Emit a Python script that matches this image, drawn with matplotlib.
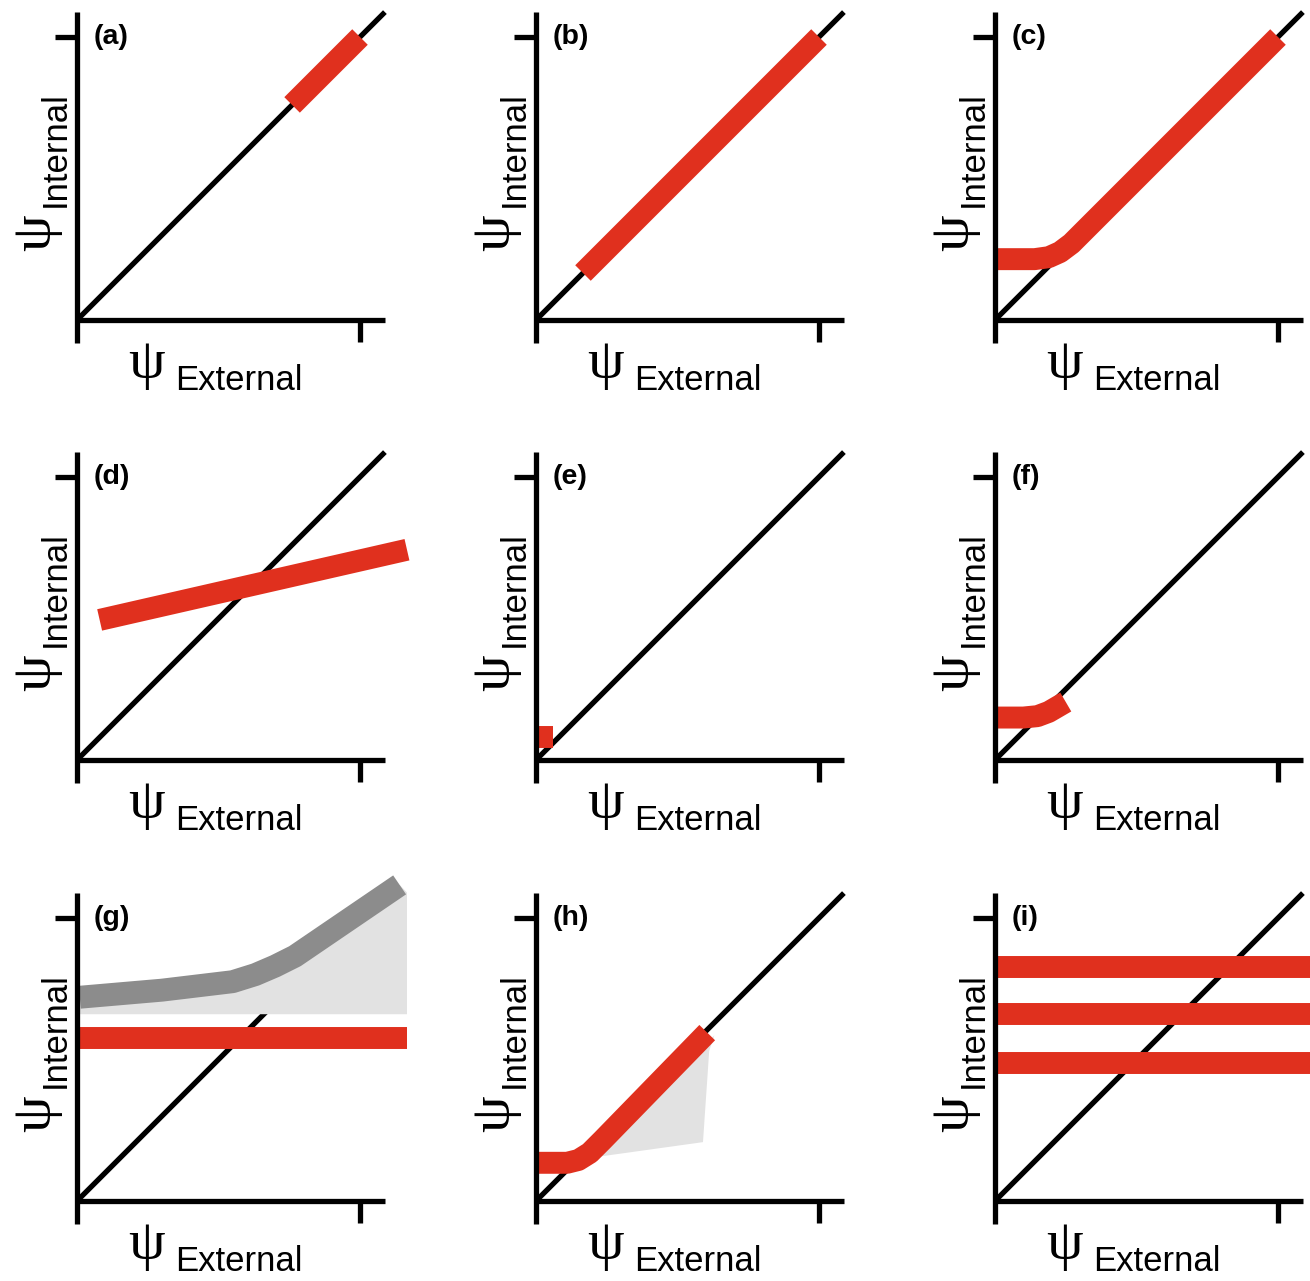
import matplotlib.pyplot as plt
from matplotlib.patches import Polygon

RED = '#e0301e'
GREY_LINE = '#8c8c8c'
GREY_FILL = '#e2e2e2'

panel_labels = ['(a)', '(b)', '(c)', '(d)', '(e)', '(f)', '(g)', '(h)', '(i)']
x_text = 'External'
y_text = 'Internal'

# red response curves (data units, 1 = tick)
a_x = [0.76, 1.0]
a_y = [0.76, 1.0]
b_x = [0.166, 1.0]
b_y = [0.166, 1.0]
c_x = [0.01, 0.14, 0.19, 0.23, 0.27, 1.0]
c_y = [0.215, 0.215, 0.222, 0.24, 0.27, 1.0]
d_x = [0.08, 1.166]
d_y = [0.495, 0.743]
e_x = [0.004, 0.06]
e_y = [0.083, 0.083]
f_x = [0.01, 0.1, 0.15, 0.19, 0.25]
f_y = [0.15, 0.15, 0.155, 0.17, 0.205]
g_x = [0.01, 1.166]
g_y = [0.576, 0.576]
h_x = [0.01, 0.11, 0.15, 0.19, 0.235, 0.605]
h_y = [0.135, 0.135, 0.145, 0.17, 0.215, 0.595]
i_levels = [0.827, 0.661, 0.488]
i_xmax = 1.2

# grey envelope in (g)
g_grey_x = [0.01, 0.3, 0.55, 0.63, 0.7, 0.77, 1.14]
g_grey_y = [0.72, 0.745, 0.775, 0.80, 0.83, 0.865, 1.117]
g_fill_bottom = 0.66
g_fill_right = 1.166
g_fill_right_top = 1.09

# grey shaded area in (h)
h_shade_x = [0.21, 0.63, 0.612, 0.59]
h_shade_y = [0.155, 0.585, 0.53, 0.208]

W, H = 1310, 1281
SCALE = 283.0  # pixels per data unit
col_origin = [77, 536, 995]
row_origin = [320, 760, 1201]
XLIM = (-0.27, 1.2)
YLIM = (-0.3, 1.13)

fig = plt.figure(figsize=(W / 100, H / 100), dpi=100)

LW_BLACK = 3.8
LW_RED = 15.8
PSI_SIZE = 42

axes = []
for r in range(3):
    for c in range(3):
        ox = col_origin[c]
        oy = H - row_origin[r]
        left = (ox + XLIM[0] * SCALE) / W
        bottom = (oy + YLIM[0] * SCALE) / H
        width = (XLIM[1] - XLIM[0]) * SCALE / W
        height = (YLIM[1] - YLIM[0]) * SCALE / H
        ax = fig.add_axes([left, bottom, width, height])
        ax.set_xlim(XLIM)
        ax.set_ylim(YLIM)
        ax.patch.set_alpha(0)
        for s in ['top', 'right']:
            ax.spines[s].set_visible(False)
        ax.spines['left'].set_position(('data', 0))
        ax.spines['bottom'].set_position(('data', 0))
        ax.spines['left'].set_bounds(-0.081, 1.088)
        ax.spines['bottom'].set_bounds(0, 1.09)
        for s in ['left', 'bottom']:
            ax.spines[s].set_linewidth(LW_BLACK)
            ax.spines[s].set_capstyle('butt')
            ax.spines[s].set_zorder(5)
        ax.set_xticks([1])
        ax.set_yticks([1])
        ax.set_xticklabels([])
        ax.set_yticklabels([])
        ax.tick_params(direction='out', length=16, width=LW_BLACK)
        # 1:1 line
        ax.plot([0, 1.088], [0, 1.088], color='black', lw=LW_BLACK,
                solid_capstyle='butt', zorder=2, clip_on=False)
        # axis labels
        ax.text(0.245, -0.155, '\u03c8', family='Liberation Serif',
                fontsize=PSI_SIZE, ha='center', va='center')
        ax.text(0.346, -0.247, x_text, family='Liberation Sans', fontsize=25)
        ax.text(-0.145, 0.31, '\u03c8', family='Liberation Serif',
                fontsize=PSI_SIZE, rotation=90, rotation_mode='anchor',
                ha='center', va='center')
        ax.text(-0.042, 0.40, y_text, family='Liberation Sans', fontsize=25,
                rotation=90, rotation_mode='anchor', ha='left', va='baseline')
        ax.text(0.057, 1.0, panel_labels[r * 3 + c], family='Liberation Sans',
                fontweight='bold', fontsize=20.5, va='center')
        axes.append(ax)

def red(ax, x, y):
    ax.plot(x, y, color=RED, lw=LW_RED, solid_capstyle='butt',
            solid_joinstyle='round', zorder=4, clip_on=False)

red(axes[0], a_x, a_y)
red(axes[1], b_x, b_y)
red(axes[2], c_x, c_y)
red(axes[3], d_x, d_y)
red(axes[4], e_x, e_y)
red(axes[5], f_x, f_y)

# (g)
ax = axes[6]
fill_pts = list(zip(g_grey_x, g_grey_y)) + [(g_fill_right, g_fill_right_top),
                                            (g_fill_right, g_fill_bottom),
                                            (g_grey_x[0], g_fill_bottom)]
ax.add_patch(Polygon(fill_pts, closed=True, facecolor=GREY_FILL,
                     edgecolor='none', zorder=3))
ax.plot(g_grey_x, g_grey_y, color=GREY_LINE, lw=16.5, solid_capstyle='butt',
        solid_joinstyle='round', zorder=3.5, clip_on=False)
red(ax, g_x, g_y)

# (h)
ax = axes[7]
ax.add_patch(Polygon(list(zip(h_shade_x, h_shade_y)), closed=True,
                     facecolor=GREY_FILL, edgecolor='none', zorder=3))
red(ax, h_x, h_y)

# (i)
ax = axes[8]
for lev in i_levels:
    red(ax, [0.01, i_xmax], [lev, lev])

fig.savefig('out.png', dpi=100)
